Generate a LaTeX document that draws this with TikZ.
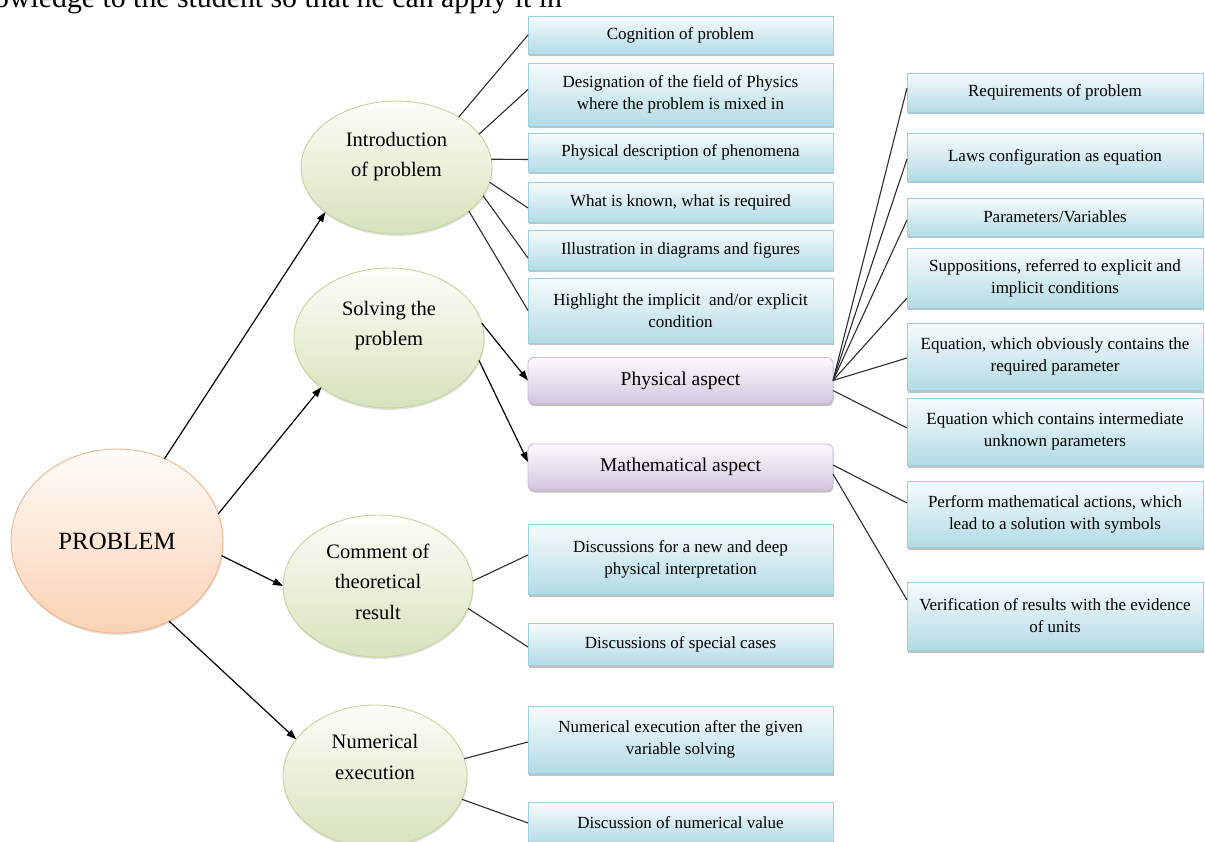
\documentclass[tikz,border=0pt]{standalone}
\usepackage{fontspec}
\setmainfont{Liberation Serif}
\usetikzlibrary{arrows.meta,shapes.geometric,shadows}
\definecolor{bluetop}{HTML}{F7FBFD}
\definecolor{bluebot}{HTML}{B3DBE6}
\definecolor{blueline}{HTML}{9CD0DE}
\definecolor{purtop}{HTML}{FCFAFD}
\definecolor{purbot}{HTML}{D4C7E0}
\definecolor{purline}{HTML}{C9BBD8}
\definecolor{grntop}{HTML}{FCFDF8}
\definecolor{grnbot}{HTML}{D6E3BC}
\definecolor{grnline}{HTML}{C3D69B}
\definecolor{orgtop}{HTML}{FFFCFA}
\definecolor{orgbot}{HTML}{FAD2B3}
\definecolor{orgline}{HTML}{F1B58A}
\definecolor{linkgray}{HTML}{2E2E2E}
\tikzset{
  bbox/.style={draw=blueline, line width=0.9pt, top color=bluetop, bottom color=bluebot,
    inner sep=0pt, outer sep=0pt, align=center, font=\fontsize{17}{22}\selectfont,
    drop shadow={shadow xshift=0.5pt, shadow yshift=-2.5pt, opacity=0.4, fill=black!60}},
  colone/.style={bbox, minimum width=305},
  coltwo/.style={bbox, minimum width=296},
  pbox/.style={draw=purline, line width=0.9pt, top color=purtop, bottom color=purbot,
    rounded corners=6pt, inner sep=0pt, outer sep=0pt, minimum width=305, minimum height=46,
    font=\fontsize{19.5}{24}\selectfont,
    drop shadow={shadow xshift=0.5pt, shadow yshift=-2.5pt, opacity=0.4, fill=black!60}},
  gell/.style={ellipse, draw=grnline, line width=0.9pt, top color=grntop, bottom color=grnbot,
    inner sep=0pt, outer sep=0pt,
    drop shadow={shadow xshift=0.5pt, shadow yshift=-2pt, opacity=0.2, fill=black!60}},
  pell/.style={ellipse, draw=orgline, line width=0.9pt, top color=orgtop, bottom color=orgbot,
    inner sep=0pt, outer sep=0pt, font=\fontsize{24.8}{30}\selectfont,
    drop shadow={shadow xshift=0.5pt, shadow yshift=-2pt, opacity=0.2, fill=black!60}},
  etext/.style={align=center, inner sep=0pt, font=\fontsize{20.5}{30.5}\selectfont},
  link/.style={draw=linkgray, line width=1.1pt},
  arr/.style={draw=black, line width=1.2pt, -{Triangle[length=10pt,width=7pt]}},
}
\begin{document}
\begin{tikzpicture}[x=1pt,y=-1pt]
\useasboundingbox (0,0) rectangle (1205,842);
\clip (0,0) rectangle (1205,842);
\fill[white] (0,0) rectangle (1205,842);

% cut-off line of body text
\node[anchor=base west, inner sep=0pt, font=\fontsize{29.8}{34}\selectfont] (bodytext) at (-6,8)
  {owledge to the student so that he can apply it in};

% main ellipses
\node[pell, minimum width=212, minimum height=184] (prob) at (117,541) {PROBLEM};
\node[gell, minimum width=191, minimum height=133] (intro) at (396.5,167.5) {};
\node[etext] (introt) at (396.5,156.5) {Introduction\\of problem};
\node[gell, minimum width=190, minimum height=140] (solve) at (389,338) {};
\node[etext] (solvet) at (389,325.5) {Solving the\\problem};
\node[gell, minimum width=190, minimum height=142] (comm) at (378,586) {};
\node[etext] (commt) at (378,581.5) {Comment of\\theoretical\\result};
\node[gell, minimum width=184, minimum height=142] (num) at (375,776) {};
\node[etext] (numt) at (375,757) {Numerical\\execution};

% column one
\node[colone, minimum height=38] (cog) at (680.5,35) {Cognition of problem};
\node[colone, minimum height=63] (des) at (680.5,94.5) {Designation of the field of Physics\\where the problem is mixed in};
\node[colone, minimum height=39] (phd) at (680.5,152.5) {Physical description of phenomena};
\node[colone, minimum height=40] (known) at (680.5,202) {What is known, what is required};
\node[colone, minimum height=40] (illus) at (680.5,250) {Illustration in diagrams and figures};
\node[colone, minimum height=65] (high) at (680.5,310.5) {Highlight the implicit \ and/or explicit\\condition};
\node[pbox] (pa) at (680.5,380.5) {Physical aspect};
\node[pbox] (ma) at (680.5,467) {Mathematical aspect};
\node[colone, minimum height=70] (dnew) at (680.5,559) {Discussions for a new and deep\\physical interpretation};
\node[colone, minimum height=42] (dspec) at (680.5,644) {Discussions of special cases};
\node[colone, minimum height=67] (nexec) at (680.5,739.5) {Numerical execution after the given\\variable solving};
\node[colone, minimum height=42] (nval) at (680.5,823) {Discussion of numerical value};

% column two
\node[coltwo, minimum height=39] (req) at (1055,92.5) {Requirements of problem};
\node[coltwo, minimum height=48] (laws) at (1055,157) {Laws configuration as equation};
\node[coltwo, minimum height=38] (params) at (1055,217) {Parameters/Variables};
\node[coltwo, minimum height=60] (supp) at (1055,278) {Suppositions, referred to explicit and\\implicit conditions};
\node[coltwo, minimum height=67] (eqobv) at (1055,356.5) {Equation, which obviously contains the\\required parameter};
\node[coltwo, minimum height=67] (eqint) at (1055,431.5) {Equation which contains intermediate\\unknown parameters};
\node[coltwo, minimum height=66] (perform) at (1055,514) {Perform mathematical actions, which\\lead to a solution with symbols};
\node[coltwo, minimum height=68] (verif) at (1055,616) {Verification of results with the evidence\\of units};

% arrows from PROBLEM
\draw[arr] (prob.60) -- (intro.212);
\draw[arr] (prob.15) -- (solve.216);
\draw[arr] (prob.-8) -- (comm.180);
\draw[arr] (prob.-57) -- (num.155);
\draw[arr] (solve.9) -- (pa.west);
\draw[arr] (solve.-14) -- ([yshift=5pt]ma.west);

% links from introduction
\draw[link] (intro.39) -- (cog.west);
\draw[link] (intro.22) -- ([yshift=5pt]des.west);
\draw[link] (intro.5) -- ([yshift=-7pt]phd.west);
\draw[link] (intro.-9) -- ([yshift=-6pt]known.west);
\draw[link] (intro.-18) -- ([yshift=-8pt]illus.west);
\draw[link] (intro.-31) -- (high.west);

% links from comment and numerical
\draw[link] (comm.3) -- ([yshift=4pt]dnew.west);
\draw[link] (comm.-14) -- ([yshift=-3pt]dspec.west);
\draw[link] (num.11) -- ([yshift=-2.5pt]nexec.west);
\draw[link] (num.-15) -- (nval.west);

% links from physical aspect
\draw[link] (pa.east) -- ([yshift=4.5pt]req.west);
\draw[link] (pa.east) -- ([yshift=-2pt]laws.west);
\draw[link] (pa.east) -- ([yshift=-3pt]params.west);
\draw[link] (pa.east) -- ([yshift=-20pt]supp.west);
\draw[link] (pa.east) -- ([yshift=-1.5pt]eqobv.west);
\draw[link] ([yshift=-10pt]pa.east) -- ([yshift=3.5pt]eqint.west);

% links from mathematical aspect
\draw[link] ([yshift=2pt]ma.east) -- ([yshift=11pt]perform.west);
\draw[link] ([yshift=-7pt]ma.east) -- ([yshift=16pt]verif.west);
\end{tikzpicture}
\end{document}
